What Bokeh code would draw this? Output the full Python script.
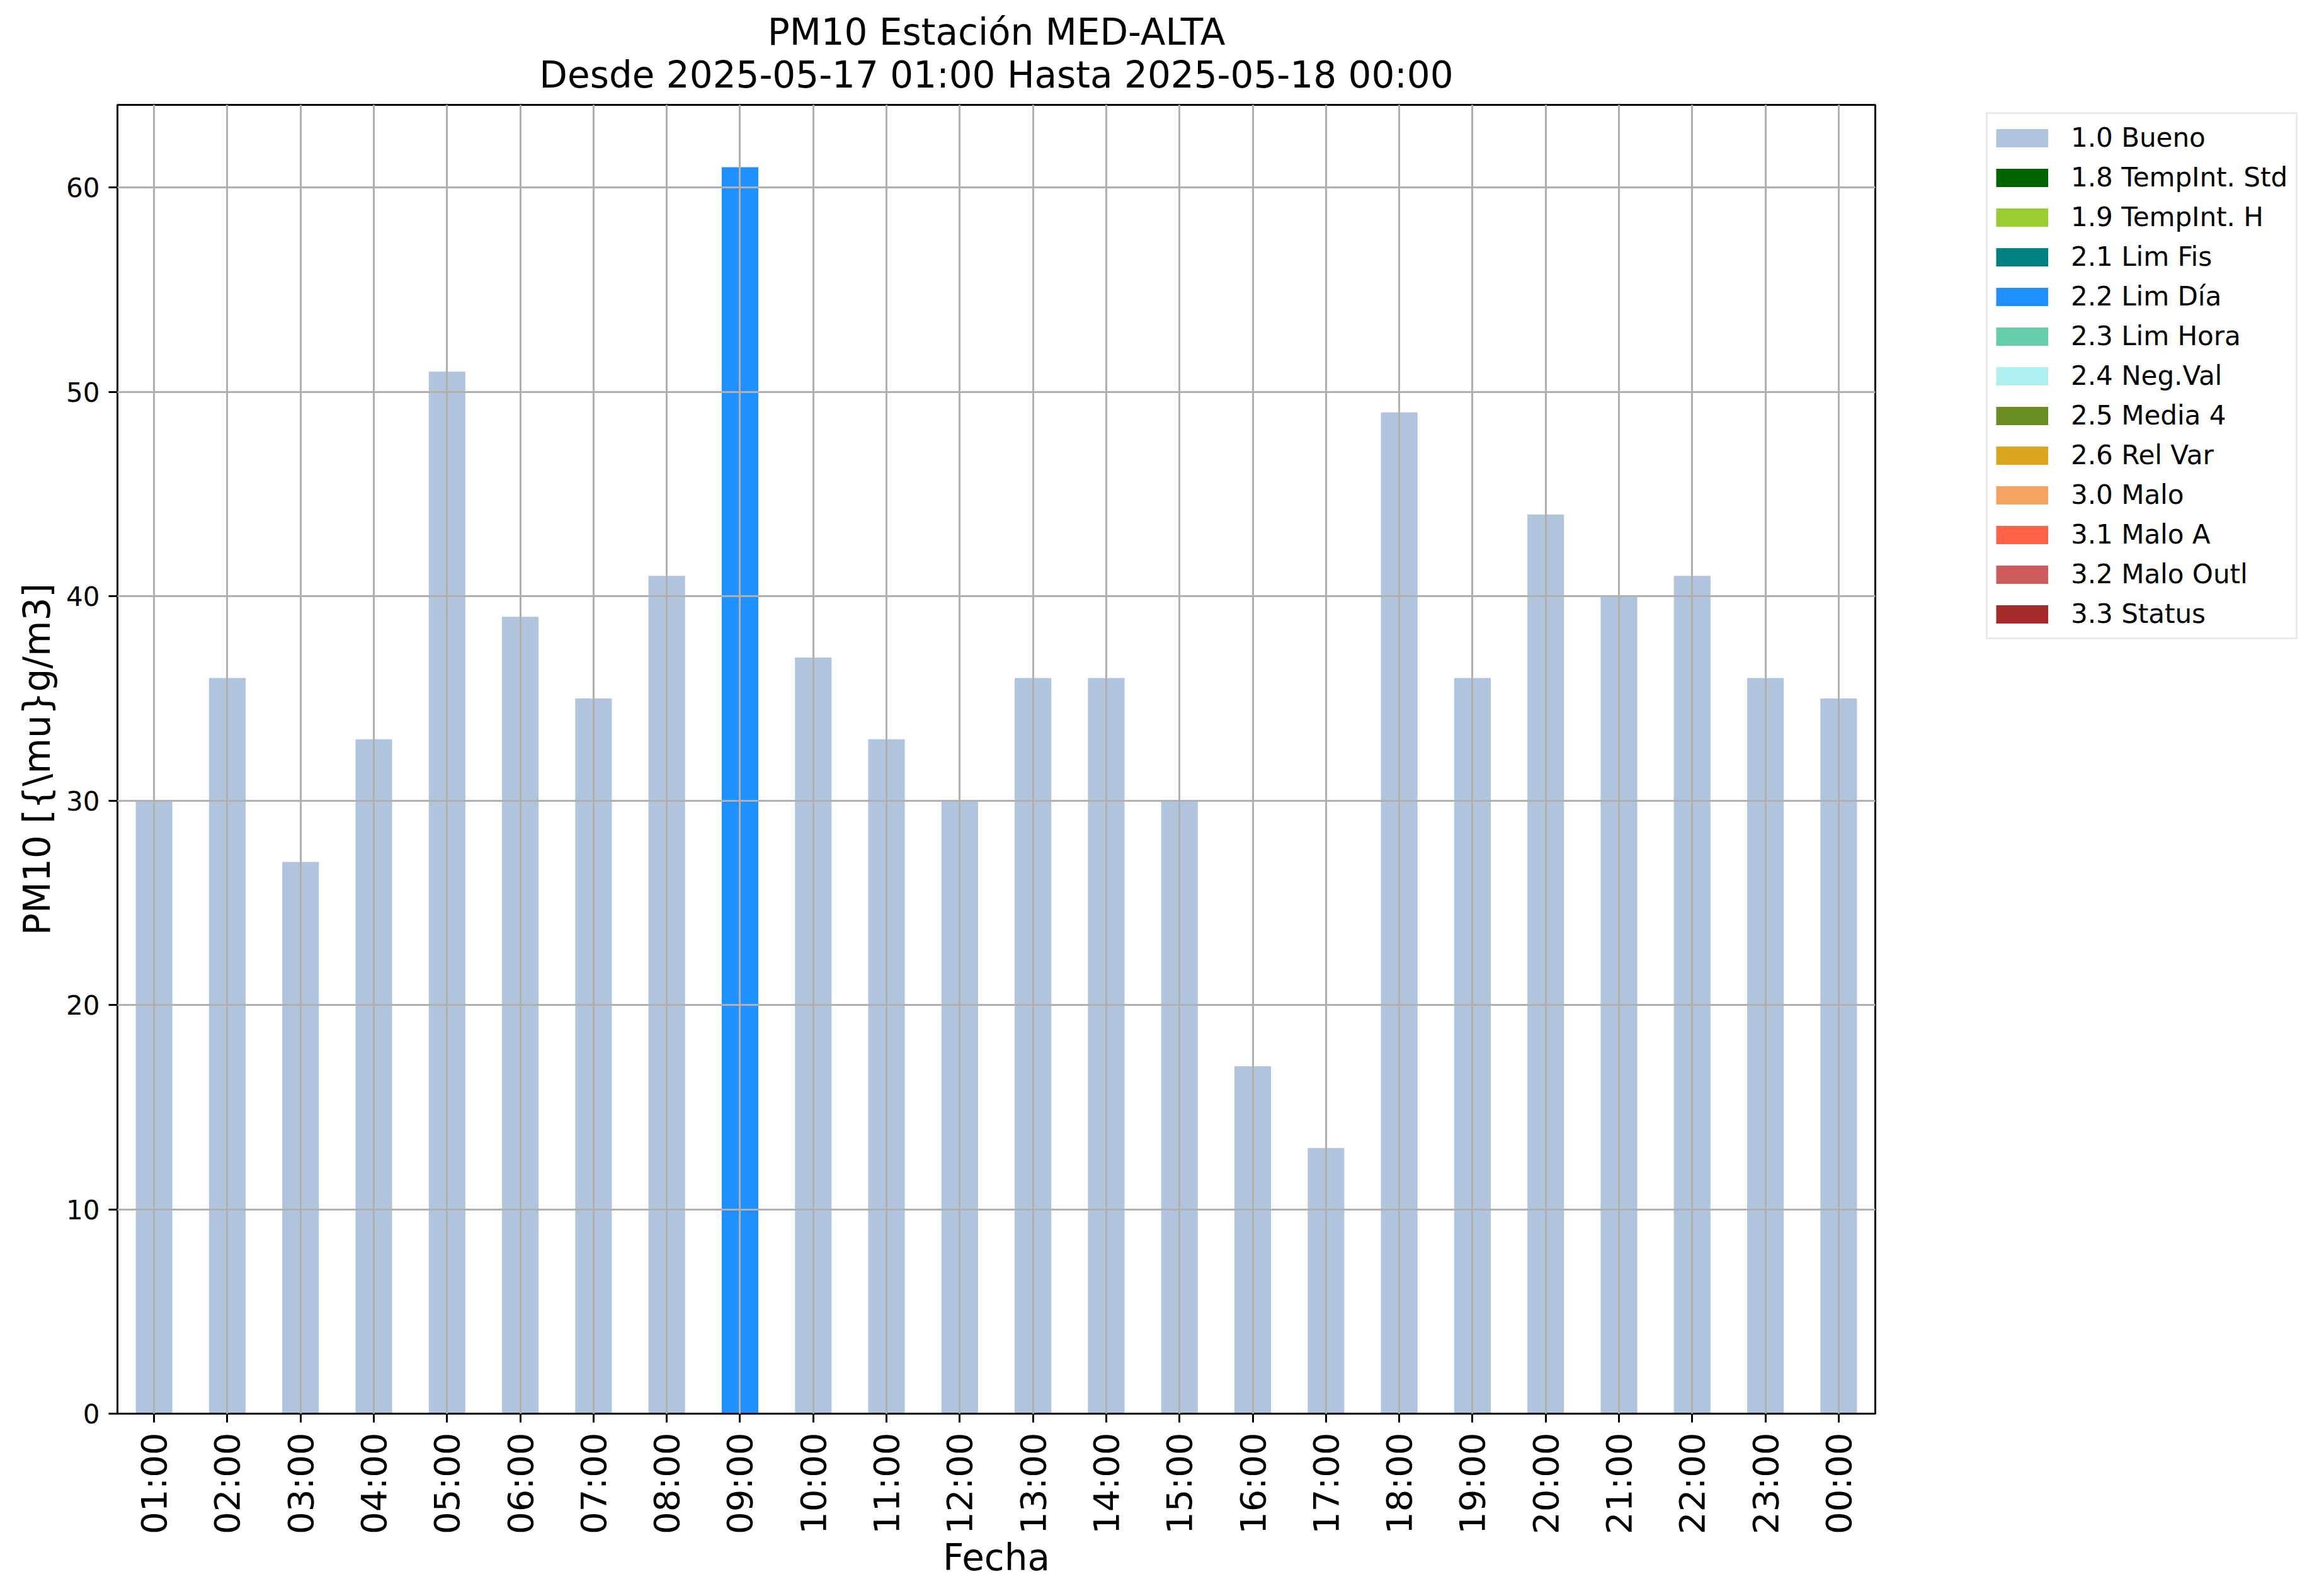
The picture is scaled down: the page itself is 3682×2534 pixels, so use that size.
import math
from bokeh.plotting import figure
from bokeh.models import Title, Legend, LegendItem, FixedTicker, Range1d, ColumnDataSource, FactorRange
from bokeh.embed import file_html
from bokeh.resources import INLINE

title_line1 = "PM10 Estación MED-ALTA"
title_line2 = "Desde 2025-05-17 01:00 Hasta 2025-05-18 00:00"
x_label = "Fecha"
y_label = "PM10 [{\\mu}g/m3]"

hours = ["01:00", "02:00", "03:00", "04:00", "05:00", "06:00", "07:00", "08:00",
         "09:00", "10:00", "11:00", "12:00", "13:00", "14:00", "15:00", "16:00",
         "17:00", "18:00", "19:00", "20:00", "21:00", "22:00", "23:00", "00:00"]
pm10 = [30, 36, 27, 33, 51, 39, 35, 41, 61, 37, 33, 30, 36, 36, 30, 17, 13, 49,
        36, 44, 40, 41, 36, 35]
flags = ["1.0 Bueno", "1.0 Bueno", "1.0 Bueno", "1.0 Bueno", "1.0 Bueno", "1.0 Bueno",
         "1.0 Bueno", "1.0 Bueno", "2.2 Lim Día", "1.0 Bueno", "1.0 Bueno", "1.0 Bueno",
         "1.0 Bueno", "1.0 Bueno", "1.0 Bueno", "1.0 Bueno", "1.0 Bueno", "1.0 Bueno",
         "1.0 Bueno", "1.0 Bueno", "1.0 Bueno", "1.0 Bueno", "1.0 Bueno", "1.0 Bueno"]

categories = ["1.0 Bueno", "1.8 TempInt. Std", "1.9 TempInt. H", "2.1 Lim Fis",
              "2.2 Lim Día", "2.3 Lim Hora", "2.4 Neg.Val", "2.5 Media 4",
              "2.6 Rel Var", "3.0 Malo", "3.1 Malo A", "3.2 Malo Outl", "3.3 Status"]
category_colors = ["#B0C4DE", "#006400", "#9ACD32", "#008080", "#1E90FF", "#66CDAA",
                   "#AFEEEE", "#6B8E23", "#DAA520", "#F4A460", "#FF6347", "#CD5C5C",
                   "#A52A2A"]
y_ticks = [0, 10, 20, 30, 40, 50, 60]

FONT = "DejaVu Sans"
color_of = dict(zip(categories, category_colors))
src = ColumnDataSource(dict(hour=hours, value=pm10, flag=flags,
                            color=[color_of[f] for f in flags]))

p = figure(x_range=FactorRange(*hours), y_range=Range1d(0, max(pm10) * 1.05),
           frame_width=2791, frame_height=2078,
           min_border_left=186, min_border_right=689,
           min_border_top=166, min_border_bottom=274,
           output_backend="svg", toolbar_location=None, title=None)
p.background_fill_color = "white"
p.border_fill_color = "white"
p.outline_line_color = "black"
p.outline_line_width = 3

p.vbar(x="hour", top="value", width=0.5, source=src, fill_color="color", line_color=None)

# titles (added nearest-first)
p.add_layout(Title(text=title_line2, align="center", text_font=FONT, text_font_size="58px",
                   text_font_style="normal", text_color="black", standoff=27), "above")
p.add_layout(Title(text=title_line1, align="center", text_font=FONT, text_font_size="58px",
                   text_font_style="normal", text_color="black", standoff=-30), "above")

# axes
for ax in (p.xaxis[0], p.yaxis[0]):
    ax.axis_line_width = 3
    ax.axis_line_color = "black"
    ax.major_tick_line_width = 3
    ax.major_tick_line_color = "black"
    ax.major_tick_out = 14
    ax.major_tick_in = 0
    ax.minor_tick_line_color = None
    ax.major_label_text_font = FONT
    ax.axis_label_text_font = FONT
    ax.axis_label_text_font_style = "normal"
    ax.axis_label_text_font_size = "58px"
    ax.axis_label_text_color = "black"
    ax.major_label_text_color = "black"

p.xaxis.axis_label = x_label
p.xaxis.major_label_orientation = math.pi / 2
p.xaxis.major_label_text_font_size = "56px"
p.xaxis.major_label_standoff = 16
p.xaxis.axis_label_standoff = 0

p.yaxis.axis_label = y_label
p.yaxis.ticker = FixedTicker(ticks=y_ticks)
p.yaxis.major_label_text_font_size = "42px"
p.yaxis.major_label_standoff = 14
p.yaxis.axis_label_standoff = 9

# grid on top of bars
for g in (p.xgrid[0], p.ygrid[0]):
    g.grid_line_color = "#b0b0b0"
    g.grid_line_width = 3
    g.level = "overlay"
p.ygrid.ticker = FixedTicker(ticks=y_ticks)

# legend swatches: invisible (NaN) thick lines, one per quality category
nan = float("nan")
items = []
for name, col in zip(categories, category_colors):
    r = p.line(x=[hours[0], hours[0]], y=[nan, nan], line_color=col, line_width=29,
               line_cap="butt")
    items.append(LegendItem(label=name, renderers=[r]))

legend = Legend(items=items, location=(176, 1229),
                glyph_width=83, glyph_height=48, label_height=48, spacing=14,
                padding=13, margin=0, label_standoff=36,
                label_text_font=FONT, label_text_font_size="42px", label_text_color="black",
                border_line_color="#d3d3d3", border_line_width=3,
                background_fill_color="white", background_fill_alpha=1.0)
p.add_layout(legend, "right")

open("out.html", "w").write(file_html(p, INLINE))
